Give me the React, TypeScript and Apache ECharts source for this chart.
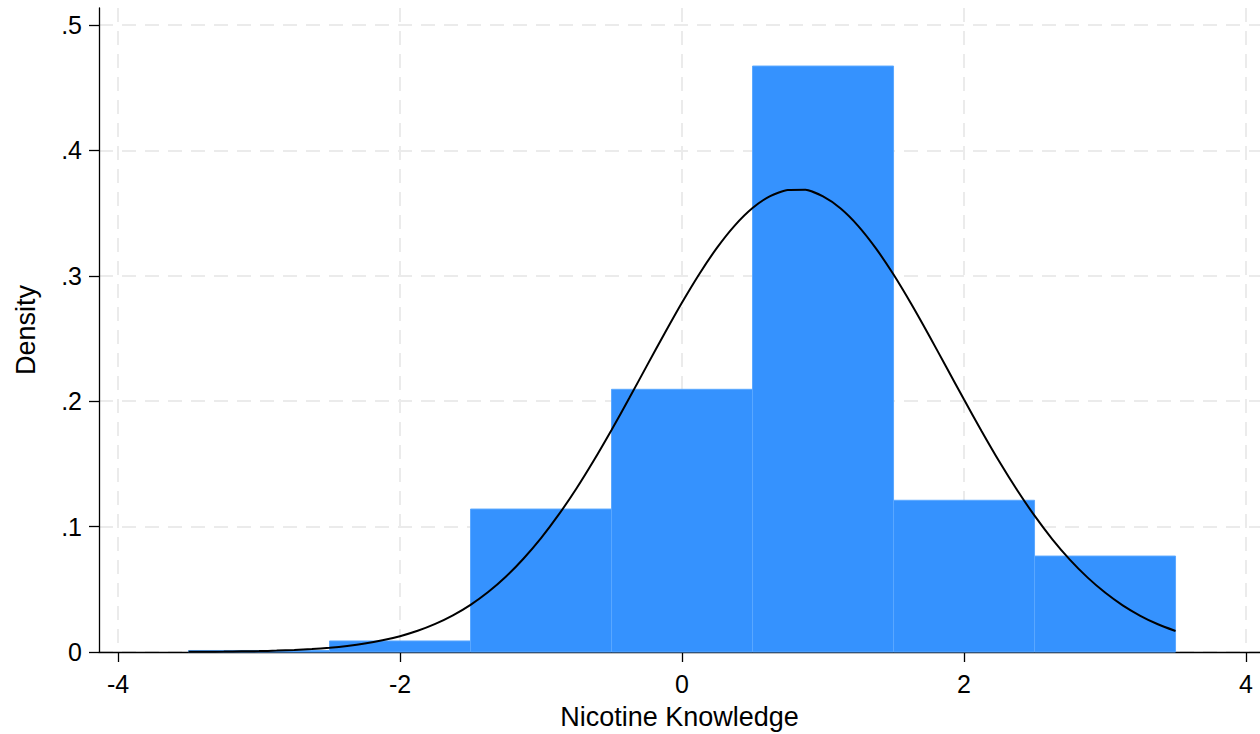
import React, { useEffect, useRef } from "react";
import * as echarts from "echarts";

// Histogram bins (edges) and densities
const binEdges = [-3.5, -2.5, -1.5, -0.5, 0.5, 1.5, 2.5, 3.5];
const binDensity = [0.0012, 0.0088, 0.114, 0.2095, 0.4673, 0.121, 0.0765];

// Normal density overlay
const curveX = [
  -3.5, -3.375, -3.25, -3.125, -3.0, -2.875, -2.75, -2.625, -2.5, -2.375,
  -2.25, -2.125, -2.0, -1.875, -1.75, -1.625, -1.5, -1.375, -1.25, -1.125,
  -1.0, -0.875, -0.75, -0.625, -0.5, -0.375, -0.25, -0.125, 0, 0.125, 0.25,
  0.375, 0.5, 0.625, 0.75, 0.875, 1.0, 1.125, 1.25, 1.375, 1.5, 1.625, 1.75,
  1.875, 2.0, 2.125, 2.25, 2.375, 2.5, 2.625, 2.75, 2.875, 3.0, 3.125, 3.25,
  3.375, 3.5,
];
const curveY = [
  0.0001, 0.0002, 0.0003, 0.0005, 0.0007, 0.0011, 0.0016, 0.0024, 0.0034,
  0.0048, 0.0067, 0.0093, 0.0126, 0.0169, 0.0224, 0.0292, 0.0376, 0.0478,
  0.06, 0.0744, 0.0908, 0.1095, 0.1302, 0.1529, 0.1771, 0.2023, 0.2282,
  0.2538, 0.2787, 0.3019, 0.3227, 0.3403, 0.3541, 0.3636, 0.3684, 0.3686,
  0.3633, 0.3537, 0.3397, 0.3219, 0.301, 0.2777, 0.2528, 0.2271, 0.2013,
  0.1761, 0.1519, 0.1294, 0.1087, 0.0901, 0.0737, 0.0595, 0.0474, 0.0372,
  0.0289, 0.0221, 0.0167,
];

// Axis ticks
const xTicks = [-4, -2, 0, 2, 4];
const yTicks = [0, 0.1, 0.2, 0.3, 0.4, 0.5];
const yTickLabels = ["0", ".1", ".2", ".3", ".4", ".5"];

const FONT = "'Liberation Sans', Arial, Helvetica, sans-serif";

export default function App() {
  const ref = useRef<HTMLDivElement>(null);

  useEffect(() => {
    if (!ref.current) return;
    const chart = echarts.init(ref.current, null, { renderer: "svg" });

    const bars = binDensity.map((d, i) => [binEdges[i], binEdges[i + 1], d]);
    const line = curveX.map((x, i) => [x, curveY[i]]);

    const gridLine = {
      show: true,
      lineStyle: { color: "#ebebeb", width: 2, type: [14, 9] as any },
    };

    chart.setOption({
      animation: false,
      backgroundColor: "#ffffff",
      grid: {
        left: 99,
        right: 0,
        top: 8,
        bottom: 82,
        containLabel: false,
        outerBoundsMode: "none",
      },
      xAxis: {
        type: "value",
        min: -4.135,
        max: 4.099,
        name: "Nicotine Knowledge",
        nameLocation: "middle",
        nameGap: 51,
        nameTextStyle: { fontFamily: FONT, fontSize: 27, color: "#000" },
        axisLine: { show: true, onZero: false, lineStyle: { color: "#000", width: 1.3 } },
        axisTick: { show: true, length: 10, customValues: xTicks, lineStyle: { color: "#000", width: 1.3 } },
        axisLabel: {
          customValues: xTicks,
          margin: 19,
          fontFamily: FONT,
          fontSize: 25,
          color: "#000",
          formatter: (v: number) => String(v),
        },
        splitLine: gridLine,
      },
      yAxis: {
        type: "value",
        min: 0,
        max: 0.5136,
        name: "Density",
        nameLocation: "middle",
        nameGap: 60,
        nameRotate: 90,
        nameTextStyle: { fontFamily: FONT, fontSize: 27, color: "#000" },
        axisLine: { show: true, onZero: false, lineStyle: { color: "#000", width: 1.3 } },
        axisTick: { show: true, length: 10, customValues: yTicks, lineStyle: { color: "#000", width: 1.3 } },
        axisLabel: {
          customValues: yTicks,
          margin: 17,
          fontFamily: FONT,
          fontSize: 25,
          color: "#000",
          formatter: (v: number) => {
            const idx = yTicks.findIndex((t) => Math.abs(t - v) < 1e-9);
            return idx >= 0 ? yTickLabels[idx] : "";
          },
        },
        splitLine: gridLine,
      },
      series: [
        {
          type: "custom",
          data: bars,
          z: 2,
          renderItem: (params: any, api: any) => {
            const p0 = api.coord([api.value(0), api.value(2)]);
            const p1 = api.coord([api.value(1), 0]);
            return {
              type: "rect",
              shape: { x: p0[0], y: p0[1], width: p1[0] - p0[0], height: p1[1] - p0[1] },
              style: { fill: "#3592fe", stroke: "#5aa8ff", lineWidth: 1 },
            };
          },
        },
        {
          type: "line",
          data: line,
          z: 3,
          smooth: 0.2,
          showSymbol: false,
          lineStyle: { color: "#000", width: 2 },
        },
      ],
    });

    return () => chart.dispose();
  }, []);

  return (
    <div
      ref={ref}
      style={{ width: 1260, height: 734, position: "absolute", left: 0, top: 0 }}
    />
  );
}
